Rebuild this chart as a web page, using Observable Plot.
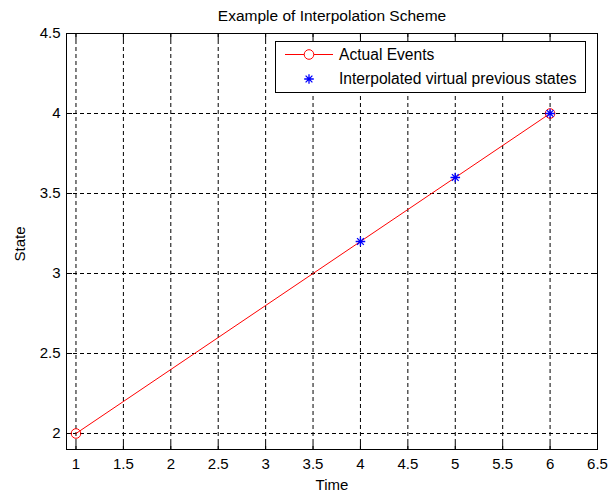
<!DOCTYPE html>
<html>
<head>
<meta charset="utf-8">
<script src="https://cdn.jsdelivr.net/npm/d3@7"></script>
<script src="https://cdn.jsdelivr.net/npm/@observablehq/plot@0.6"></script>
<style>
  html, body { margin: 0; padding: 0; background: #fff; }
  #chart svg { display: block; }
</style>
</head>
<body>
<div id="chart"></div>
<script>
// ---- data ----
const actualTime = [1, 6];
const actualState = [2, 4];
const interpTime = [4, 5, 6];
const interpState = [3.2, 3.6, 4];
const xTicks = [1, 1.5, 2, 2.5, 3, 3.5, 4, 4.5, 5, 5.5, 6, 6.5];
const xTickLabels = ["1", "1.5", "2", "2.5", "3", "3.5", "4", "4.5", "5", "5.5", "6", "6.5"];
const yTicks = [2, 2.5, 3, 3.5, 4, 4.5];
const yTickLabels = ["2", "2.5", "3", "3.5", "4", "4.5"];
const xDomain = [0.9, 6.5];
const yDomain = [1.9, 4.5];
const titleText = "Example of Interpolation Scheme";
const xLabel = "Time";
const yLabel = "State";
const legendLabels = ["Actual Events", "Interpolated virtual previous states"];
const RED = "#ff0000";
const BLUE = "#0000ff";

const actual = actualTime.map((t, i) => ({t, s: actualState[i]}));
const interp = interpTime.map((t, i) => ({t, s: interpState[i]}));

// 8-armed MATLAB-like asterisk
function asteriskPath(ctx, r) {
  const d = r * Math.SQRT1_2;
  ctx.moveTo(-r, 0); ctx.lineTo(r, 0);
  ctx.moveTo(0, -r); ctx.lineTo(0, r);
  ctx.moveTo(-d, -d); ctx.lineTo(d, d);
  ctx.moveTo(-d, d); ctx.lineTo(d, -d);
}
const asterisk = { draw(ctx, size) { asteriskPath(ctx, Math.sqrt(size / Math.PI)); } };

const FONT = "'Liberation Sans', Arial, Helvetica, sans-serif";
const TICK = 6;

const chart = Plot.plot({
  width: 615,
  height: 494,
  marginLeft: 66,
  marginRight: 18,
  marginTop: 33,
  marginBottom: 45,
  x: { domain: xDomain },
  y: { domain: yDomain },
  style: { fontFamily: FONT, fontSize: "15px", background: "#fff", color: "#000" },
  marks: [
    Plot.gridX(xTicks, { stroke: "#000", strokeOpacity: 1, strokeDasharray: "4,3" }),
    Plot.gridY(yTicks, { stroke: "#000", strokeOpacity: 1, strokeDasharray: "4,3" }),
    // tick labels
    Plot.axisX(xTicks, { anchor: "bottom", tickSize: 0, tickPadding: 9, tickFormat: (d, i) => xTickLabels[i], label: null, fontSize: 15 }),
    Plot.axisY(yTicks, { anchor: "left", tickSize: 0, tickPadding: 6, tickFormat: (d, i) => yTickLabels[i], label: null, fontSize: 15 }),
    // inward ticks on all four sides
    Plot.axisX(xTicks, { anchor: "bottom", tickSize: TICK, dy: -TICK, tickFormat: () => "", label: null }),
    Plot.axisX(xTicks, { anchor: "top", tickSize: TICK, dy: TICK, tickFormat: () => "", label: null }),
    Plot.axisY(yTicks, { anchor: "left", tickSize: TICK, dx: TICK, tickFormat: () => "", label: null }),
    Plot.axisY(yTicks, { anchor: "right", tickSize: TICK, dx: -TICK, tickFormat: () => "", label: null }),
    Plot.frame({ stroke: "#000" }),
    // data
    Plot.line(actual, { x: "t", y: "s", stroke: RED, strokeWidth: 1 }),
    Plot.dot(actual, { x: "t", y: "s", r: 4.8, stroke: RED, fill: "none", strokeWidth: 1 }),
    Plot.dot(interp, { x: "t", y: "s", r: 4.8, symbol: asterisk, stroke: BLUE, fill: "none", strokeWidth: 1.3 }),
    // titles
    Plot.text([titleText], { text: d => d, frameAnchor: "top", lineAnchor: "bottom", dy: -13, fontSize: 15.5 }),
    Plot.text([xLabel], { text: d => d, frameAnchor: "bottom", lineAnchor: "bottom", dy: 40, fontSize: 15 }),
    Plot.text([yLabel], { text: d => d, frameAnchor: "left", lineAnchor: "bottom", rotate: -90, dx: -42, dy: 20, fontSize: 15 })
  ]
});

document.getElementById("chart").appendChild(chart);

// ---- legend (inside the axes, top-right) ----
const xr = chart.scale("x").range;
const yr = chart.scale("y").range;
const frameRight = Math.max(...xr), frameTop = Math.min(...yr);
const bw = 310, bh = 51;
const bx = Math.round(frameRight - 12 - bw), by = Math.round(frameTop + 8);
const svgSel = d3.select(chart);
const g = svgSel.append("g").attr("font-family", FONT).attr("font-size", 15.6).attr("text-anchor", "start");
g.append("rect").attr("x", bx + 0.5).attr("y", by + 0.5).attr("width", bw).attr("height", bh)
  .attr("fill", "#fff").attr("stroke", "#000");
const row1 = by + 13, row2 = by + 38;
const sx = bx + 34;
g.append("line").attr("x1", bx + 10).attr("x2", bx + 58).attr("y1", row1 + 0.5).attr("y2", row1 + 0.5)
  .attr("stroke", RED);
g.append("circle").attr("cx", sx).attr("cy", row1 + 0.5).attr("r", 4.8).attr("fill", "#fff").attr("stroke", RED);
const p = d3.path(); asteriskPath(p, 4.8);
g.append("path").attr("d", p.toString()).attr("transform", `translate(${sx},${row2})`)
  .attr("stroke", BLUE).attr("stroke-width", 1.3).attr("fill", "none");
g.append("text").attr("x", bx + 64).attr("y", row1 + 6).attr("text-anchor", "start").text(legendLabels[0]);
g.append("text").attr("x", bx + 64).attr("y", row2 + 5).attr("text-anchor", "start").text(legendLabels[1]);
</script>
</body>
</html>
